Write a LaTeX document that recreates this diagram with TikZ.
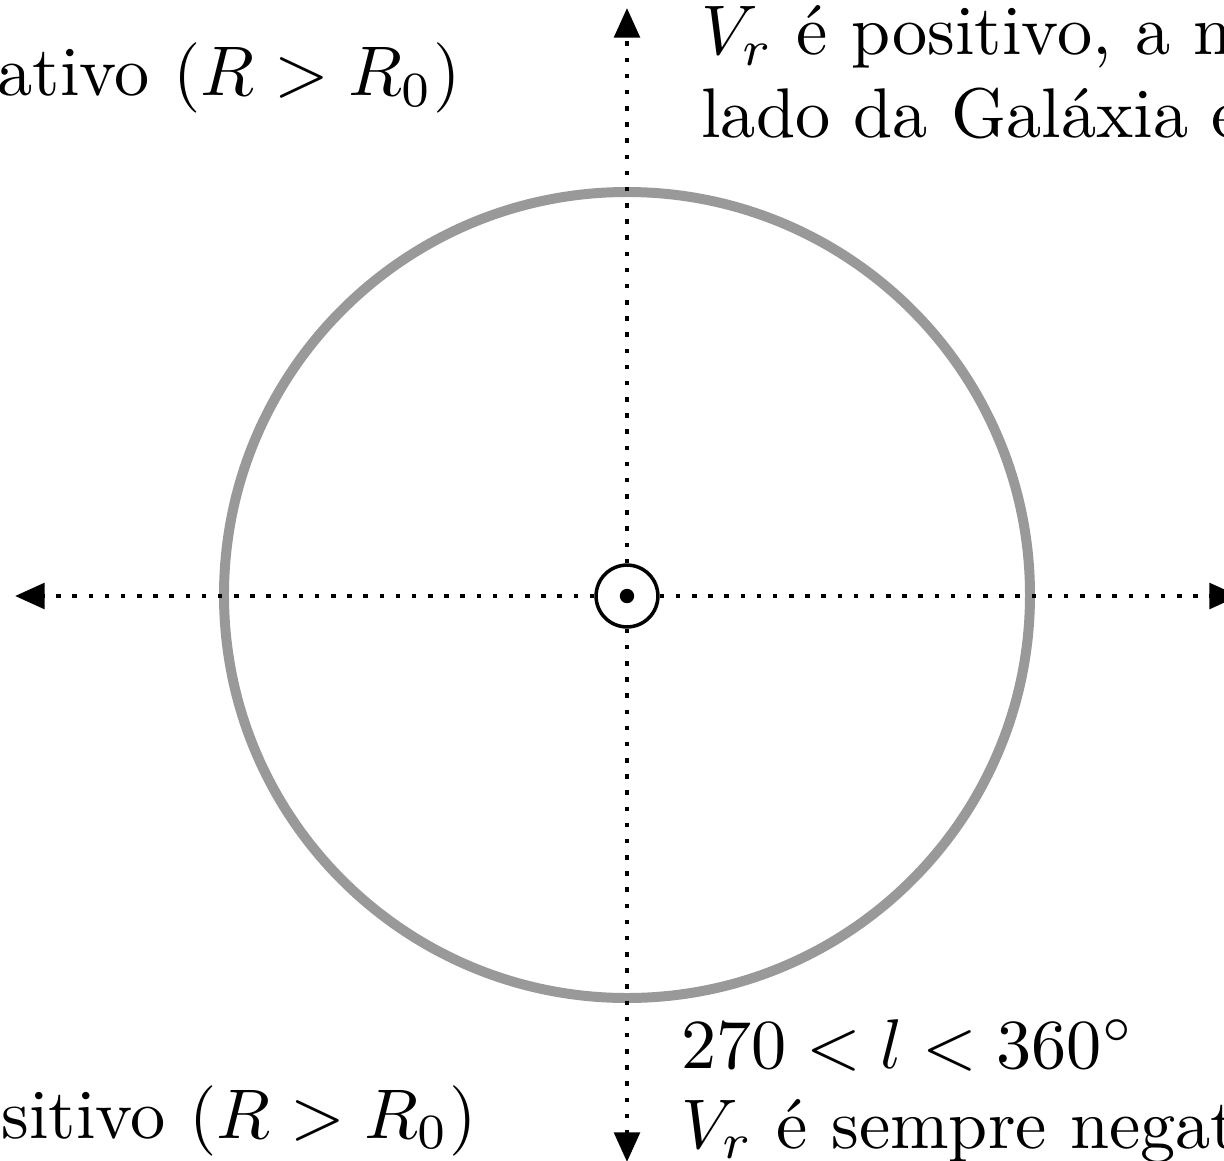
\documentclass[tikz,border=0pt]{standalone}
\usepackage{tikz}
\usetikzlibrary{arrows.meta,positioning}
\definecolor{ringc}{RGB}{153,153,153}
\tikzset{
  axis/.style={line width=0.64pt,dash pattern=on 0.64pt off 1.66pt,-{Triangle[length=4.2pt,width=3.6pt]}},
  ring/.style={draw=ringc,line width=1.42pt},
  sun/.style={circle,draw=black,line width=0.5pt,minimum size=8.8pt,inner sep=0pt},
  lbl/.style={inner sep=0pt},
}
\begin{document}
\begin{tikzpicture}[x=0.5cm,y=0.5cm]
  \useasboundingbox (-6.27,-5.64) rectangle (5.97,5.96);
  \clip (-6.27,-5.64) rectangle (5.97,5.96);
  % orbit and the centre marker
  \draw[ring] (0,0.01) circle (4.03);
  \node[sun] (sol) at (0,0) {};
  \fill (sol.center) circle (0.072);
  % dotted axes out of the centre
  \coordinate (up) at (0,5.88); \coordinate (dn) at (0,-5.66);
  \coordinate (lt) at (-6.12,0); \coordinate (rt) at (6.12,0);
  \draw[axis] (sol) -- (up); \draw[axis] (sol) -- (dn);
  \draw[axis] (sol) -- (lt); \draw[axis] (sol) -- (rt);
  % quadrant labels
  \node[lbl,anchor=base east] (q2) at (-1.65,5.00) {ativo $(R > R_0)$};
  \node[lbl,anchor=base west] (q1a) at (0.73,5.41) {$V_r$ é positivo, a n};
  \node[lbl,anchor=base west] (q1b) at (0.73,4.58) {lado da Galáxia e};
  \node[lbl,anchor=base east] (q3) at (-1.49,-5.42) {sitivo $(R > R_0)$};
  \node[lbl,anchor=base west] (q4a) at (0.53,-4.72) {$270 < l < 360^\circ$};
  \node[lbl,anchor=base west] (q4b) at (0.53,-5.52) {$V_r$ é sempre negat};
\end{tikzpicture}
\end{document}
